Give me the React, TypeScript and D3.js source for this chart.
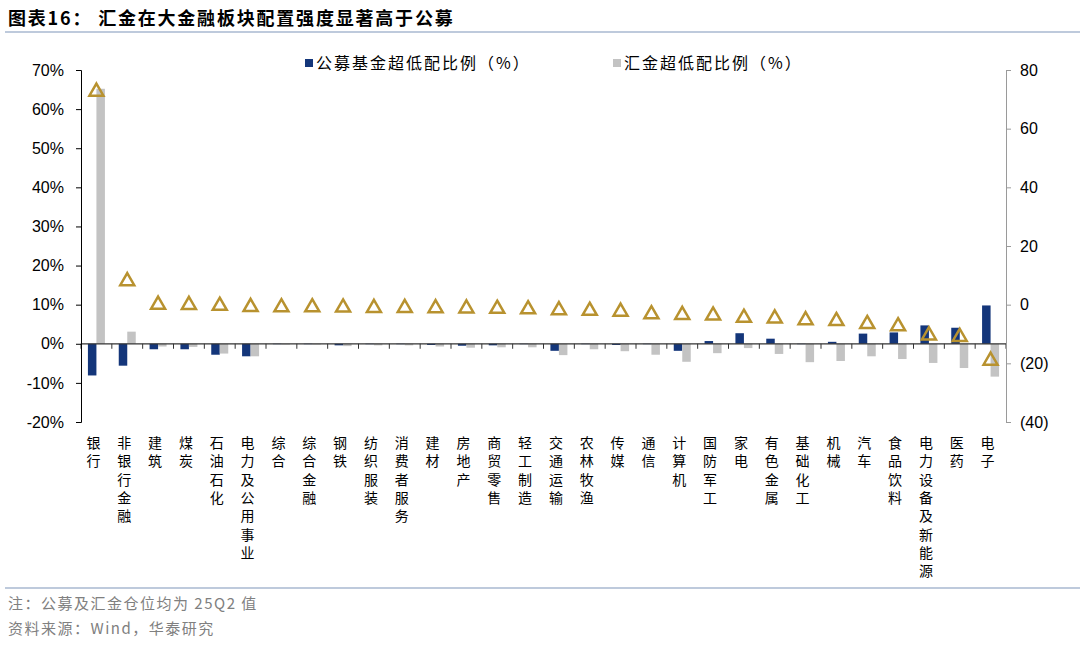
import { useEffect, useRef } from 'react';
import { scaleBand, scaleLinear, axisLeft, axisRight, select, symbol, symbolTriangle, range } from 'd3';

// industries, sorted by the Huijin minus public-fund gap
const categories = [
  '银行', '非银行金融', '建筑', '煤炭', '石油石化', '电力及公用事业', '综合', '综合金融', '钢铁', '纺织服装',
  '消费者服务', '建材', '房地产', '商贸零售', '轻工制造', '交通运输', '农林牧渔', '传媒', '通信', '计算机',
  '国防军工', '家电', '有色金属', '基础化工', '机械', '汽车', '食品饮料', '电力设备及新能源', '医药', '电子',
];

// 公募基金超低配比例 (%), left axis
const fundValues = [
  -8.1, -5.6, -1.4, -1.4, -2.8, -3.2, -0.1, -0.1, -0.4, -0.1,
  -0.1, -0.3, -0.5, -0.4, -0.1, -1.8, -0.1, -0.3, -0.1, -1.8,
  0.7, 2.7, 1.3, -0.1, 0.5, 2.6, 2.9, 4.7, 4.1, 9.8,
];

// 汇金超低配比例 (%), left axis
const huijinValues = [
  65.2, 3.1, -0.7, -0.8, -2.5, -3.2, -0.2, -0.2, -0.6, -0.4,
  -0.4, -0.7, -1.0, -0.9, -0.9, -2.9, -1.4, -1.9, -2.8, -4.6,
  -2.4, -1.1, -2.6, -4.7, -4.4, -3.2, -3.9, -4.9, -6.2, -8.4,
];

// gap markers (triangles), right axis
const gapValues = [
  73.3, 8.7, 0.7, 0.6, 0.3, -0.1, -0.2, -0.2, -0.3, -0.4,
  -0.4, -0.5, -0.6, -0.7, -0.9, -1.2, -1.4, -1.7, -2.6, -2.8,
  -3.0, -3.8, -4.0, -4.6, -4.9, -5.9, -6.7, -9.8, -10.3, -18.4,
];

const leftTicks = range(-20, 71, 10);
const rightTicks = range(-40, 81, 20);

const legendLabels = ['公募基金超低配比例（%）', '汇金超低配比例（%）'];
const title = '图表16：  汇金在大金融板块配置强度显著高于公募';
const notes = ['注：公募及汇金仓位均为 25Q2 值', '资料来源：Wind，华泰研究'];

const BLUE = '#14367a';
const GRAY = '#c3c3c3';
const GOLD = '#b8922f';
const CJK = '"Noto Sans CJK SC", "Noto Sans", sans-serif';
const LATIN = '"Liberation Sans", Arial, sans-serif';

const left = 81;
const right = 1006;
const top = 70;
const bottom = 422;

export default function App() {
  const leftAxis = useRef(null);
  const rightAxis = useRef(null);

  const x = scaleBand().domain(categories).range([left, right]).padding(0);
  const yL = scaleLinear().domain([-20, 70]).range([bottom, top]);
  const yR = scaleLinear().domain([-40, 80]).range([bottom, top]);
  const barW = 8.5;
  const tri = symbol().type(symbolTriangle).size(85)();

  useEffect(() => {
    if (leftAxis.current) {
      const g = select(leftAxis.current);
      g.call(
        axisLeft(yL)
          .tickValues(leftTicks)
          .tickSize(5)
          .tickPadding(12)
          .tickFormat((d) => `${d}%`)
      );
      g.selectAll('path, line').attr('stroke', '#000');
      g.selectAll('text').attr('font-family', LATIN).attr('font-size', 16).attr('fill', '#000');
    }
    if (rightAxis.current) {
      const g = select(rightAxis.current);
      g.call(
        axisRight(yR)
          .tickValues(rightTicks)
          .tickSize(5)
          .tickPadding(9)
          .tickFormat((d) => (d < 0 ? `(${-d})` : `${d}`))
      );
      g.selectAll('path, line').attr('stroke', '#9a9a9a');
      g.selectAll('text').attr('font-family', LATIN).attr('font-size', 16).attr('fill', '#000');
    }
  });

  return (
    <svg width={1080} height={646} style={{ position: 'absolute', left: 0, top: 0, background: '#fff' }}>
      <text x={8} y={25} fontFamily={CJK} fontWeight="bold" fontSize={18} letterSpacing={1.8} fill="#000">
        {title}
      </text>
      <line x1={5} x2={1080} y1={32} y2={32} stroke="#a8b8d0" strokeWidth={1.5} />

      {/* legend */}
      <rect x={305} y={59} width={8} height={8} fill={BLUE} />
      <text x={316} y={69} fontFamily={CJK} fontSize={16} letterSpacing={2} fill="#000">
        {legendLabels[0]}
      </text>
      <rect x={613} y={59} width={8} height={8} fill={GRAY} />
      <text x={624} y={69} fontFamily={CJK} fontSize={16} letterSpacing={2} fill="#000">
        {legendLabels[1]}
      </text>

      {/* bars */}
      {categories.map((c, i) => {
        const cx = x(c) + x.bandwidth() / 2;
        const f = fundValues[i];
        const h = huijinValues[i];
        return (
          <g key={c}>
            <rect x={cx - barW} y={Math.min(yL(f), yL(0))} width={barW} height={Math.abs(yL(f) - yL(0))} fill={BLUE} />
            <rect x={cx} y={Math.min(yL(h), yL(0))} width={barW} height={Math.abs(yL(h) - yL(0))} fill={GRAY} />
          </g>
        );
      })}

      {/* x axis at 0% */}
      <line x1={left} x2={right} y1={yL(0)} y2={yL(0)} stroke="#333" strokeWidth={1.2} />
      {categories.map((c) => (
        <line key={c} x1={x(c)} x2={x(c)} y1={yL(0)} y2={yL(0) + 5} stroke="#333" />
      ))}
      <line x1={right} x2={right} y1={yL(0)} y2={yL(0) + 5} stroke="#333" />

      {/* gap triangles, shifted so the box (not the centroid) sits on the value */}
      {categories.map((c, i) => (
        <path
          key={c}
          d={tri}
          transform={`translate(${x(c) + x.bandwidth() / 2}, ${yR(gapValues[i]) + 2})`}
          fill="none"
          stroke={GOLD}
          strokeWidth={2.5}
        />
      ))}

      <g ref={leftAxis} transform={`translate(${left}, 0)`} />
      <g ref={rightAxis} transform={`translate(${right}, 0)`} />

      {/* vertical category labels */}
      {categories.map((c) => (
        <text key={c} fontFamily={CJK} fontSize={14} fill="#000" textAnchor="middle">
          {c.split('').map((ch, k) => (
            <tspan key={k} x={x(c) + x.bandwidth() / 2 - 3} y={448 + k * 18.3}>
              {ch}
            </tspan>
          ))}
        </text>
      ))}

      <line x1={5} x2={1080} y1={588} y2={588} stroke="#a8b8d0" strokeWidth={1.5} />
      {notes.map((n, i) => (
        <text key={n} x={8} y={609 + i * 25} fontFamily={CJK} fontSize={15} letterSpacing={1.5} fill="#808080">
          {n}
        </text>
      ))}
    </svg>
  );
}
